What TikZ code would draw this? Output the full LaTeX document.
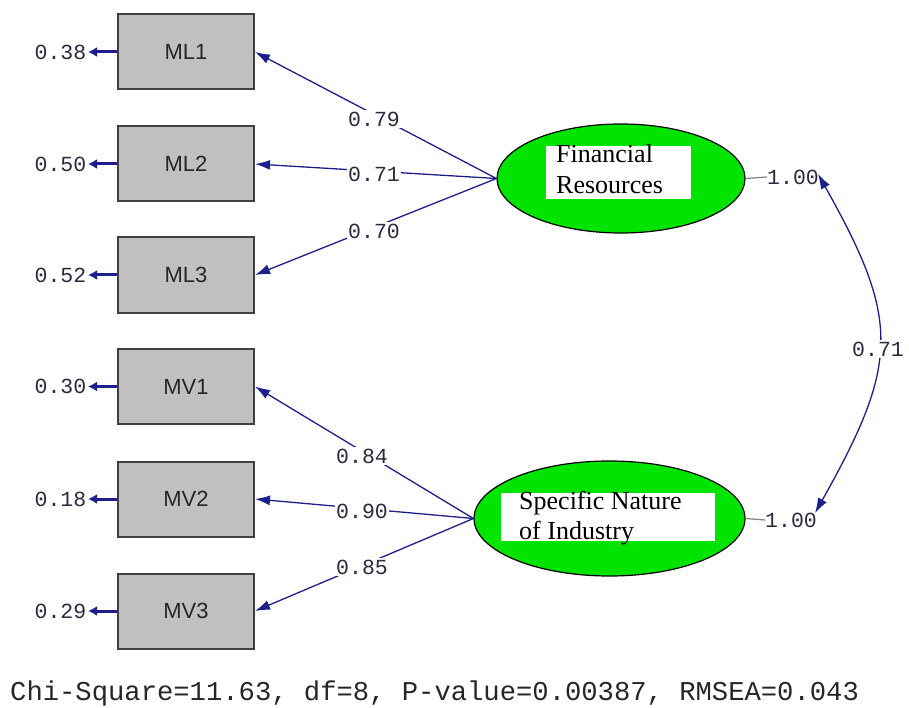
\documentclass[tikz,border=0pt]{standalone}
\usepackage{fontspec}
\setmainfont{Liberation Serif}
\newfontfamily\arialf{Liberation Sans}
\newfontfamily\courf{Liberation Mono}
\usetikzlibrary{arrows.meta,shapes.geometric}
\definecolor{navy}{HTML}{1E1E8C}
\definecolor{numc}{HTML}{2A2A40}
\definecolor{boxfill}{HTML}{C0C0C0}
\definecolor{boxline}{HTML}{404040}
\definecolor{lvgreen}{HTML}{00E400}
\tikzset{
  obs/.style={draw=boxline, line width=2pt, fill=boxfill, minimum width=136pt, minimum height=75pt, inner sep=0pt, font=\arialf\fontsize{22}{26}\selectfont, text=black!85},
  lat/.style={ellipse, draw=black, line width=1.2pt, fill=lvgreen, inner sep=0pt},
  whitebox/.style={fill=white, draw=none, inner sep=0pt},
  lvtext/.style={font=\fontsize{26}{31}\selectfont, anchor=base west, inner sep=0pt, text=black},
  num/.style={font=\courf\fontsize{21.5}{24}\selectfont, text=numc, inner sep=1.5pt},
  numw/.style={num, fill=white},
  load/.style={draw=navy, line width=1.3pt, -{Latex[length=15pt,width=10pt]}},
  err/.style={draw=navy, line width=3pt, -{Latex[length=9pt,width=10pt]}},
  cov/.style={draw=navy, line width=1.3pt, {Latex[length=15pt,width=10pt]}-{Latex[length=15pt,width=10pt]}},
  tick/.style={draw=gray, line width=1.2pt}
}
\begin{document}
\begin{tikzpicture}[x=1pt,y=-1pt]
\useasboundingbox (0,0) rectangle (909,708);
% observed variables
\node[obs] (ml1) at (186,52) {ML1};
\node[obs] (ml2) at (186,164) {ML2};
\node[obs] (ml3) at (186,275) {ML3};
\node[obs] (mv1) at (186,386.5) {MV1};
\node[obs] (mv2) at (186,499) {MV2};
\node[obs] (mv3) at (186,611) {MV3};
% error variances
\node[num, anchor=east] (e1) at (88,52) {0.38};
\node[num, anchor=east] (e2) at (88,164) {0.50};
\node[num, anchor=east] (e3) at (88,275) {0.52};
\node[num, anchor=east] (e4) at (88,386.5) {0.30};
\node[num, anchor=east] (e5) at (88,499) {0.18};
\node[num, anchor=east] (e6) at (88,611) {0.29};
\foreach \b/\e in {ml1/e1,ml2/e2,ml3/e3,mv1/e4,mv2/e5,mv3/e6}
  \draw[err] (\b.west) -- (\e.east);
% latent variables
\node[lat, minimum width=248pt, minimum height=109pt] (fr) at (621,178.5) {};
\node[whitebox, minimum width=145pt, minimum height=53pt] (frbox) at (618.5,172.5) {};
\node[lvtext] (frt1) at (556,163) {Financial};
\node[lvtext] (frt2) at (556,194) {Resources};
\node[lat, minimum width=271pt, minimum height=115pt] (sn) at (609.5,518.5) {};
\node[whitebox, minimum width=214pt, minimum height=48pt] (snbox) at (608,517) {};
\node[lvtext] (snt1) at (519,509) {Specific Nature};
\node[lvtext] (snt2) at (519,539) {of Industry};
% loadings
\draw[load] (fr.west) -- (ml1.east);
\draw[load] (fr.west) -- (ml2.east);
\draw[load] (fr.west) -- (ml3.east);
\draw[load] (sn.west) -- (mv1.east);
\draw[load] (sn.west) -- (mv2.east);
\draw[load] (sn.west) -- (mv3.east);
\node[numw] (l1) at (374,119) {0.79};
\node[numw] (l2) at (374,174) {0.71};
\node[numw] (l3) at (374,231) {0.70};
\node[numw] (l4) at (362,456) {0.84};
\node[numw] (l5) at (362,511) {0.90};
\node[numw] (l6) at (362,567) {0.85};
% variances of latent variables
\node[num, anchor=west, inner sep=0pt] (v1) at (767,177) {1.00};
\node[num, anchor=west, inner sep=0pt] (v2) at (765,520) {1.00};
\draw[tick] (fr.east) -- (v1.west);
\draw[tick] (sn.east) -- (v2.west);
% covariance
\coordinate (c1) at (818,174);
\coordinate (c2) at (815,513);
\draw[cov] (c1) .. controls (900,320) and (900,362) .. (c2);
\node[numw] (cv) at (878,349) {0.71};
% fit statistics
\node[font=\courf\fontsize{27.2}{30}\selectfont, anchor=base west, inner sep=0pt, text=black!85] (fit) at (10,700) {Chi-Square=11.63, df=8, P-value=0.00387, RMSEA=0.043};
\end{tikzpicture}
\end{document}
